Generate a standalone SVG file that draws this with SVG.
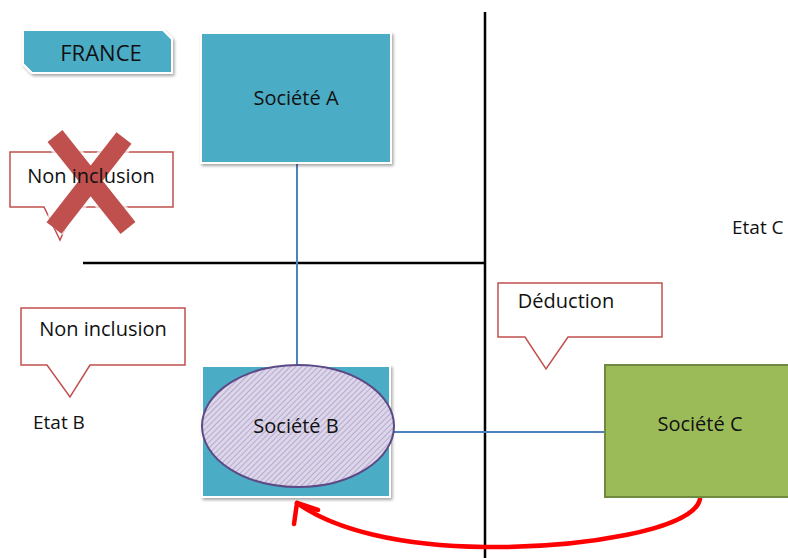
<svg xmlns="http://www.w3.org/2000/svg" width="788" height="558" viewBox="0 0 788 558">
  <defs>
    <style>
      text { font-family: "Open Sans", "Liberation Sans", sans-serif; fill: #111; }
      .lbl { font-size: 20px; text-anchor: middle; }
      .axis { stroke: #000; stroke-width: 2.5; fill: none; }
      .link { stroke: #4f81bd; stroke-width: 2; fill: none; }
      .callout { fill: #fff; stroke: #c0504d; stroke-width: 1.5; }
      .blue { fill: #4bacc6; stroke: #fff; stroke-width: 2; }
      .flow { fill: none; stroke: #ff0000; stroke-width: 4.5; stroke-linecap: round; stroke-linejoin: round; }
    </style>
    <filter id="shadow" x="-10%" y="-10%" width="130%" height="130%">
      <feDropShadow dx="1.5" dy="2" stdDeviation="1.5" flood-color="#000" flood-opacity="0.35"/>
    </filter>
    <pattern id="hatch" width="4" height="4" patternUnits="userSpaceOnUse" patternTransform="rotate(45)">
      <rect width="4" height="4" fill="#ddd6ea"/>
      <line x1="0" y1="0" x2="0" y2="4" stroke="#9a8db8" stroke-width="1.2"/>
    </pattern>
  </defs>

  <rect width="788" height="558" fill="#fff"/>

  <!-- borders between the states -->
  <g id="axes">
    <line class="axis" x1="485" y1="12" x2="485" y2="558"/>
    <line class="axis" x1="83" y1="263" x2="485" y2="263"/>
  </g>

  <!-- ownership links and flow -->
  <g id="connectors">
    <line class="link" x1="297" y1="163" x2="297" y2="366"/>
    <line class="link" x1="394" y1="432" x2="605" y2="432"/>
    <path class="flow" d="M700 499 C694 530 580 548 485 547 C400 546 335 530 297 503"/>
    <path class="flow" d="M294 524 L297 503 L318 510"/>
  </g>

  <g id="france">
    <path d="M23 30 H163 L172 39 V73 H32 L23 64 Z" fill="#4bacc6" stroke="#fff" stroke-width="2" filter="url(#shadow)"/>
    <text x="101" y="61" style="font-size:22px" text-anchor="middle">FRANCE</text>
  </g>

  <g id="societe-a">
    <rect class="blue" x="201" y="33" width="190" height="130" filter="url(#shadow)"/>
    <text class="lbl" x="296" y="105">Société A</text>
  </g>

  <g id="non-inclusion-france">
    <path class="callout" d="M10 152 H173 V207 H75 L60 240 L44 207 H10 Z"/>
    <!-- crossed-out mark, under the label -->
    <g stroke-linecap="butt">
      <path d="M55 136 L128 228 M124 138 L54 228" stroke="#fff" stroke-width="25" opacity="0.7"/>
      <path d="M55 136 L128 228 M124 138 L54 228" stroke="#c0504d" stroke-width="19"/>
    </g>
    <text class="lbl" x="91" y="183">Non inclusion</text>
  </g>

  <g id="non-inclusion-b">
    <path class="callout" d="M21 308 H185 V365 H90 L70 397 L47 365 H21 Z"/>
    <text class="lbl" x="103" y="336">Non inclusion</text>
  </g>

  <g id="etat-b">
    <text x="33" y="429" style="font-size:19px">Etat B</text>
  </g>

  <g id="etat-c">
    <text x="732" y="234" style="font-size:19px">Etat C</text>
  </g>

  <g id="deduction">
    <path class="callout" d="M498 283 H662 V337 H568 L546 369 L525 337 H498 Z"/>
    <text class="lbl" x="566" y="308">Déduction</text>
  </g>

  <g id="societe-b">
    <rect class="blue" x="202" y="366" width="188" height="131" filter="url(#shadow)"/>
    <ellipse cx="298" cy="426" rx="96" ry="61" fill="url(#hatch)" stroke="#5b4a85" stroke-width="2"/>
    <text class="lbl" x="296" y="433">Société B</text>
  </g>

  <g id="societe-c">
    <rect x="605" y="365" width="190" height="132" fill="#9bbb59" stroke="#71893f" stroke-width="2"/>
    <text class="lbl" x="700" y="431">Société C</text>
  </g>
</svg>
